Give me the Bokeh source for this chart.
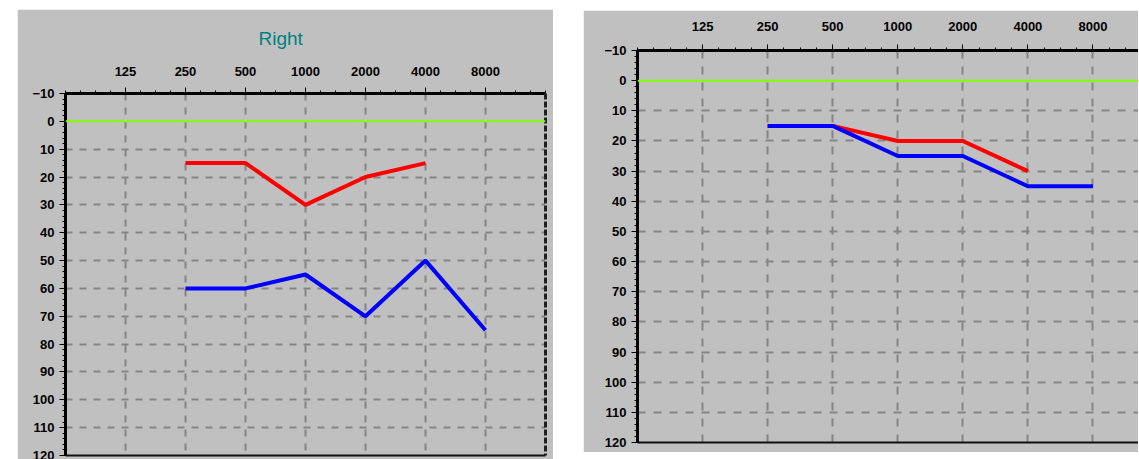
from bokeh.plotting import figure
from bokeh.models import (Range1d, FixedTicker, LinearAxis, LogAxis, Span, Title,
                          Spacer, BasicTickFormatter)
from bokeh.layouts import row, column
from bokeh.embed import file_html
from bokeh.resources import INLINE

# ---- data ----
tick_freqs = [125, 250, 500, 1000, 2000, 4000, 8000]
db_ticks = [-10, 0, 10, 20, 30, 40, 50, 60, 70, 80, 90, 100, 110, 120]
grid_db = [10, 20, 30, 40, 50, 60, 70, 80, 90, 100, 110]

left_red_freqs = [250, 500, 1000, 2000, 4000]
left_red_db = [15, 15, 30, 20, 15]
left_blue_freqs = [250, 500, 1000, 2000, 4000, 8000]
left_blue_db = [60, 60, 55, 70, 50, 75]

right_red_freqs = [250, 500, 1000, 2000, 4000]
right_red_db = [15, 15, 20, 20, 30]
right_blue_freqs = [250, 500, 1000, 2000, 4000, 8000]
right_blue_db = [15, 15, 25, 25, 35, 35]

GRAY = "#c0c0c0"
GRID = "#858585"
FONT = "Liberation Sans"


def make_panel(width, height, x_end, bl, bt, bb, br, title=None, right_border=True,
               red=None, blue=None, dash="8 7", x_standoff=6):
    p = figure(width=width, height=height, x_axis_type="log",
               x_range=Range1d(62.5, x_end), y_range=Range1d(120, -10),
               x_axis_location="above", output_backend="svg", toolbar_location=None,
               background_fill_color=GRAY, border_fill_color=GRAY,
               min_border_left=bl, min_border_top=bt, min_border_bottom=bb,
               min_border_right=br)
    p.outline_line_color = None
    if title:
        p.title = Title(text=title, align="left", text_color="#008080",
                        text_font=FONT, text_font_size="19px",
                        text_font_style="normal", standoff=30, offset=193)

    minor_x = [62.5 * 2 ** (k / 4) for k in range(0, 33)]
    xa = p.xaxis[0]
    xa.ticker = FixedTicker(ticks=tick_freqs, minor_ticks=minor_x)
    xa.formatter = BasicTickFormatter(use_scientific=False)
    ya = p.yaxis[0]
    ya.ticker = FixedTicker(ticks=db_ticks, minor_ticks=list(range(-10, 121, 2)))
    for ax in (xa, ya):
        ax.axis_line_width = 3
        ax.axis_line_color = "black"
        ax.major_tick_out = 6
        ax.major_tick_in = 0
        ax.minor_tick_out = 3
        ax.minor_tick_in = 0
        ax.major_tick_line_color = "black"
        ax.minor_tick_line_color = "black"
        ax.major_label_text_font = FONT
        ax.major_label_text_font_size = "13px"
        ax.major_label_text_font_style = "bold"
        ax.major_label_text_color = "black"
    xa.major_label_standoff = x_standoff
    ya.major_label_standoff = 5

    # borders
    bot = LogAxis(ticker=FixedTicker(ticks=[]), axis_line_width=2, axis_line_color="#101010",
                  major_tick_out=0, minor_tick_out=0, major_label_standoff=0)
    p.add_layout(bot, "below")
    if right_border:
        rax = LinearAxis(ticker=FixedTicker(ticks=[]), axis_line_width=3,
                         axis_line_color="#202020", axis_line_dash="6 2",
                         major_tick_out=0, minor_tick_out=0, major_label_standoff=0)
        p.add_layout(rax, "right")

    p.xgrid.grid_line_color = GRID
    p.xgrid.grid_line_width = 2
    p.xgrid.grid_line_dash = dash
    p.ygrid.ticker = FixedTicker(ticks=grid_db)
    p.ygrid.grid_line_color = GRID
    p.ygrid.grid_line_width = 2
    p.ygrid.grid_line_dash = dash

    p.add_layout(Span(location=0, dimension="width", line_color="#80ff00", line_width=2))

    rf, rd = red
    bf, bd = blue
    p.line(rf, rd, line_color="#ff0000", line_width=4)
    p.line(bf, bd, line_color="#0000ff", line_width=4)
    return p


left = make_panel(536, 450, 16000, 48, 84, 4, 8, title="Right", right_border=True,
                  red=(left_red_freqs, left_red_db), blue=(left_blue_freqs, left_blue_db),
                  dash="7 7", x_standoff=12)
right = make_panel(555, 442, 62.5 * 2 ** 7.7, 54, 40, 10, 0, right_border=False,
                   red=(right_red_freqs, right_red_db), blue=(right_blue_freqs, right_blue_db),
                   dash="8 8", x_standoff=14)

layout = row(Spacer(width=17), column(Spacer(height=9), left), Spacer(width=30),
             column(Spacer(height=10), right))

open("out.html", "w").write(file_html(layout, INLINE))
